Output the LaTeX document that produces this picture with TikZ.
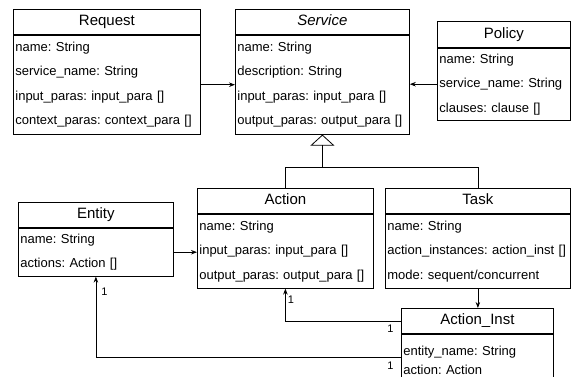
\documentclass[tikz,border=0pt]{standalone}
\usepackage{fontspec}
\setmainfont{Liberation Sans}
\usetikzlibrary{arrows.meta,positioning,calc}
\frenchspacing

\begin{document}
\begin{tikzpicture}[x=1pt,y=-1pt,>={Stealth[length=6pt,width=4.5pt]},line width=0.8pt,
  class head/.style={draw,anchor=north west,inner sep=0pt,minimum height=25pt,
    text height=10.5pt,text depth=3pt,font=\fontsize{15}{18}\selectfont},
  class body/.style={draw,anchor=north west,inner xsep=2pt,inner ysep=0pt,align=left,
    text width=#1,font=\fontsize{13}{24.5}\selectfont},
  head line/.style={line width=1.6pt},
  mult/.style={font=\fontsize{11}{13}\selectfont,inner sep=2pt}]
\useasboundingbox (0,0) rectangle (571,376);
% classes
\node[class head,minimum width=187pt] (request) at (13,9) {Request};
\node[class body=183pt,minimum height=99pt] (request body) at (request.south west)
  {name: String\\service\_name: String\\input\_paras: input\_para []\\context\_paras: context\_para []};
\node[class head,minimum width=174pt] (service) at (235,9) {\itshape Service};
\node[class body=170pt,minimum height=99pt] (service body) at (service.south west)
  {name: String\\description: String\\input\_paras: input\_para []\\output\_paras: output\_para []};
\node[class head,minimum width=133pt,minimum height=26pt] (policy) at (437,21) {Policy};
\node[class body=129pt,minimum height=72pt] (policy body) at (policy.south west)
  {name: String\\service\_name: String\\clauses: clause []};
\node[class head,minimum width=155pt] (entity) at (18,202) {Entity};
\node[class body=151pt,minimum height=48pt] (entity body) at (entity.south west)
  {name: String\\actions: Action []};
\node[class head,minimum width=176pt] (action) at (197,188) {Action};
\node[class body=172pt,minimum height=74pt] (action body) at (action.south west)
  {name: String\\input\_paras: input\_para []\\output\_paras: output\_para []};
\node[class head,minimum width=185pt] (task) at (385,188) {Task};
\node[class body=181pt,minimum height=74pt] (task body) at (task.south west)
  {name: String\\action\_instances: action\_inst []\\mode: sequent/concurrent};
\node[class head,minimum width=152pt] (ainst) at (401,308) {Action\_Inst};
\node[class body=148pt,minimum height=52pt,font=\fontsize{13}{18.5}\selectfont] (ainst body)
  at (ainst.south west) {entity\_name: String\\action: Action};
\foreach \c in {request,service,policy,entity,action,task,ainst}
  \draw[head line] (\c.south west) -- (\c.south east);
% connectors
\draw[->] (request body.east) -- (request body.east -| service body.west);
\draw[->] (policy body.west) -- (policy body.west -| service body.east);
\coordinate (gen) at ($(service body.south)+(0,33)$);
\draw (action.north) |- (gen) -| (task.north);
\draw[-{Triangle[open,length=11pt,width=24pt]}] (gen) -- (service body.south);
\draw[->] (entity body.east) -- (entity body.east -| action body.west);
\draw[->] (task body.south) -- (task body.south |- ainst.north);
\draw[->] (ainst.west) -| node[mult,pos=0.83,right] {1}
  node[mult,pos=0,below left,xshift=-5pt,yshift=-2pt] {1} (action body.south);
\draw[->] ([yshift=-24pt]ainst body.north west) -| node[mult,pos=0.91,right,xshift=3pt] {1}
  node[mult,pos=0,below left,xshift=-5pt,yshift=-2pt] {1} (entity body.south);
\end{tikzpicture}
\end{document}
